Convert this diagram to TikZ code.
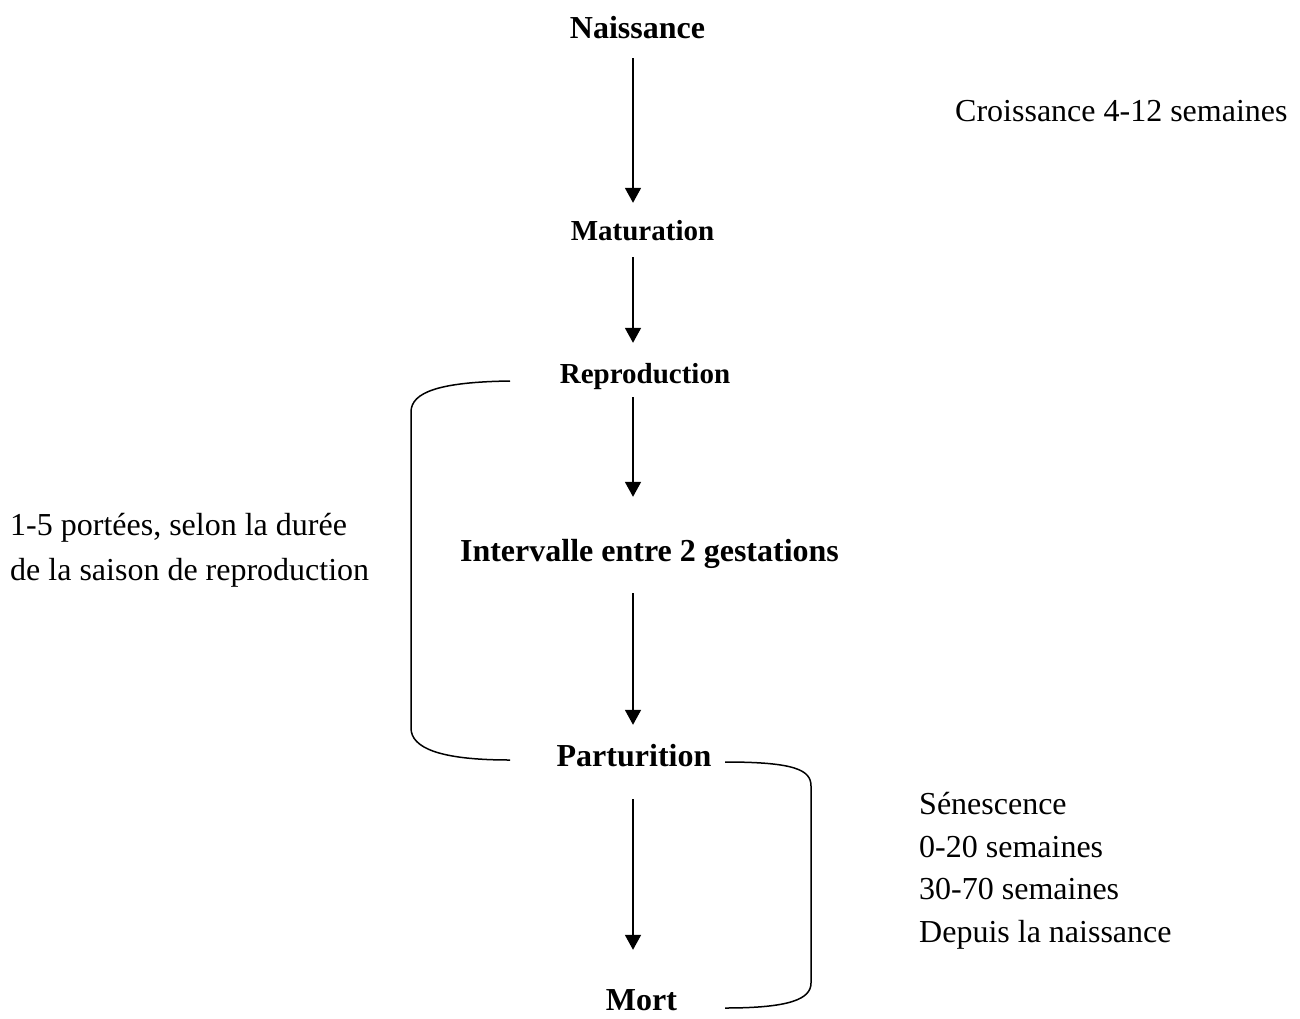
\documentclass[tikz,border=0pt]{standalone}
\usepackage{fontspec}
\setmainfont{Liberation Serif}
\usetikzlibrary{arrows.meta, calc}

\begin{document}
\begin{tikzpicture}[
  x=1pt, y=-1pt,
  stage/.style={font=\fontsize{32}{38}\selectfont\bfseries, inner sep=0pt,
    text height=22pt, text depth=7pt, anchor=base},
  substage/.style={stage, font=\fontsize{29}{35}\selectfont\bfseries,
    text height=20pt, text depth=6pt},
  note/.style={font=\fontsize{32}{#1}\selectfont, inner sep=0pt, align=left, anchor=base west},
  note/.default={42},
  flow/.style={-{Triangle[width=16pt,length=15pt]}, line width=1.8pt},
  brace/.style={line width=1.5pt}
]
  \useasboundingbox (0,0) rectangle (1300,1019);
  % stages of the cycle
  \node[stage] (naissance) at (637.5,39) {Naissance};
  \node[substage] (maturation) at (642.5,240) {Maturation};
  \node[substage] (reproduction) at (645,383) {Reproduction};
  \node[stage] (intervalle) at (649.5,561) {Intervalle entre 2 gestations};
  \node[stage] (parturition) at (634,766) {Parturition};
  \node[stage] (mort) at (641.5,1010) {Mort};
  % vertical axis of the arrows
  \coordinate (axis) at (633,0);
  % arrows between stages
  \foreach \a/\b/\s/\e in {naissance/maturation/12/17, maturation/reproduction/11/20,
      reproduction/intervalle/8/42, intervalle/parturition/25/19, parturition/mort/26/38} {
    \draw[flow, shorten <=\s pt, shorten >=\e pt] (\a.south -| axis) -- (\b.north -| axis);
  }
  % side notes (base = last line)
  \node[note] (croissance) at (955,122) {Croissance 4-12 semaines};
  \node[note=45] (portees) at (10,580) {1-5 portées, selon la durée\\de la saison de reproduction};
  \node[note=42.5] (senescence) at (919,942) {Sénescence\\0-20 semaines\\30-70 semaines\\Depuis la naissance};
  % brackets
  \coordinate (lt) at (510,381);
  \coordinate (lb) at (510,760);
  \coordinate (rt) at (725,762);
  \coordinate (rb) at (725,1008);
  \draw[brace] (lt) .. controls (440,382) and (411,392) .. (411,412) -- (411,728)
    .. controls (411,748) and (440,760) .. (lb);
  \draw[brace] (rt) .. controls (795,762) and (811,770) .. (811,786) -- (811,983)
    .. controls (811,999) and (790,1008) .. (rb);
\end{tikzpicture}
\end{document}
